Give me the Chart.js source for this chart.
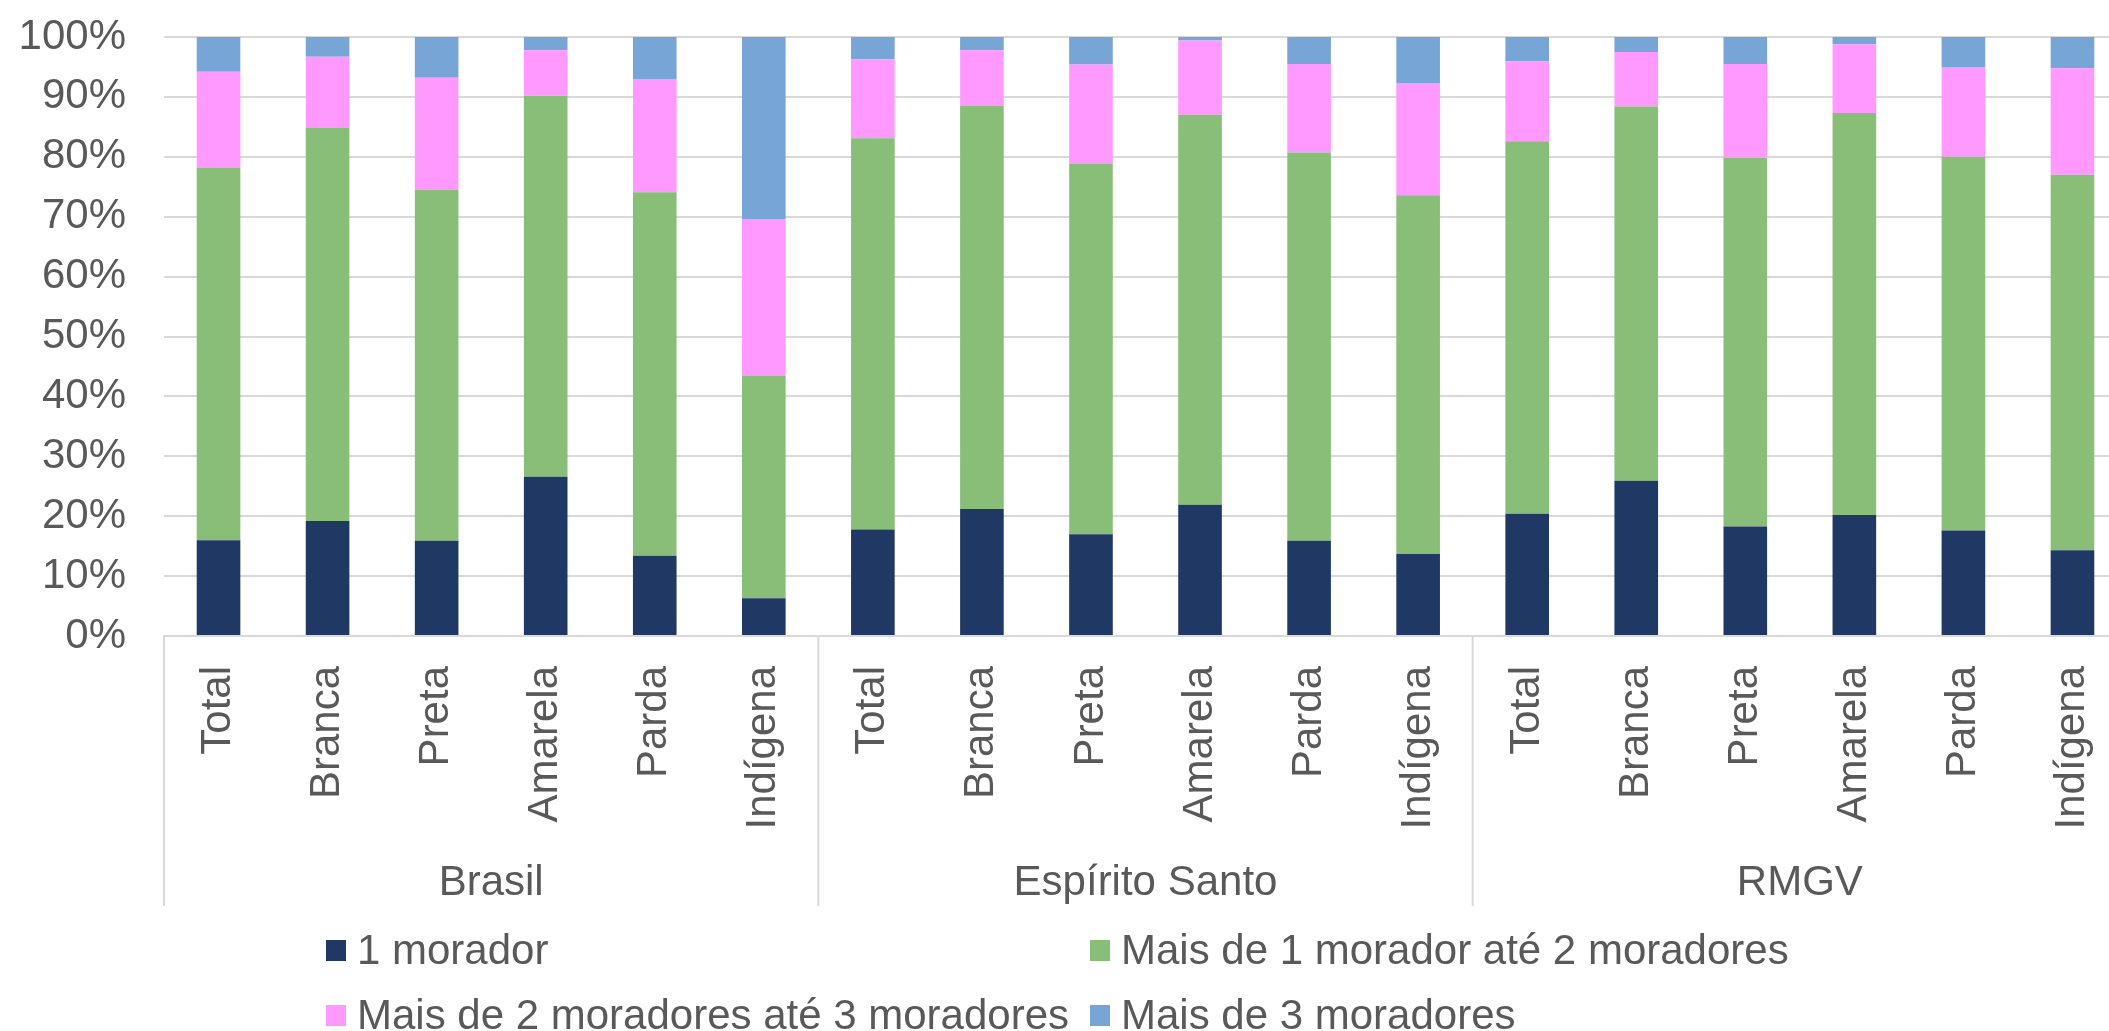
<!DOCTYPE html>
<html>
<head>
<meta charset="utf-8">
<script src="https://cdn.jsdelivr.net/npm/chart.js@4"></script>
<style>
html,body{margin:0;padding:0;overflow:hidden;background:#fff;}
#wrap{position:relative;width:2109px;height:1031px;overflow:hidden;}
canvas{position:absolute;left:0;top:0;}
.legend{position:absolute;font-family:"Liberation Sans",Arial,sans-serif;font-size:42px;color:#595959;line-height:1;white-space:nowrap;}
.legend .item{position:absolute;display:flex;align-items:center;}
.legend .box{width:20px;height:21px;margin-right:11px;}
</style>
</head>
<body>
<div id="wrap">
<canvas id="c" width="2127" height="1031"></canvas>
<div class="legend" id="legend"></div>
</div>
<script>
const groups = ['Brasil', 'Espírito Santo', 'RMGV'];
const categories = ['Total', 'Branca', 'Preta', 'Amarela', 'Parda', 'Indígena'];
const seriesNames = ['1 morador', 'Mais de 1 morador até 2 moradores', 'Mais de 2 moradores até 3 moradores', 'Mais de 3 moradores'];
const morador1 = [16.0,19.2,15.9,26.6,13.4,6.3, 17.8,21.2,17.0,21.9,15.9,13.7, 20.4,25.9,18.3,20.2,17.6,14.3];
const ate2 = [62.2,65.7,58.6,63.6,60.7,37.2, 65.3,67.3,61.8,65.1,64.8,59.9, 62.2,62.5,61.5,67.1,62.4,62.7];
const ate3 = [16.0,11.8,18.7,7.6,18.9,26.1, 13.2,9.3,16.6,12.4,14.8,18.7, 13.3,9.1,15.7,11.5,15.0,17.8];
const mais3 = [5.8,3.3,6.8,2.2,7.0,30.4, 3.7,2.2,4.6,0.6,4.5,7.7, 4.1,2.5,4.5,1.2,5.0,5.2];
const yTicks = [0,10,20,30,40,50,60,70,80,90,100];

const colors = ['#203864', '#88BE78', '#FF99FF', '#76A5D6'];
const FONT = '"Liberation Sans", Arial, sans-serif';
const TXT = '#595959';
const GRID = '#D9D9D9';

const labels = [];
groups.forEach(() => categories.forEach(c => labels.push(c)));
const seriesData = [morador1, ate2, ate3, mais3];

const groupPlugin = {
  id: 'groups',
  afterDraw(chart) {
    const ctx = chart.ctx;
    const xs = chart.scales.x;
    const area = chart.chartArea;
    const n = categories.length;
    const step = xs.getPixelForValue(1) - xs.getPixelForValue(0);
    ctx.save();
    ctx.strokeStyle = GRID;
    ctx.lineWidth = 2;
    for (let g = 0; g <= groups.length; g++) {
      const x = xs.getPixelForValue(g * n) - step / 2;
      ctx.beginPath();
      ctx.moveTo(x, area.bottom);
      ctx.lineTo(x, 906);
      ctx.stroke();
    }
    ctx.fillStyle = TXT;
    ctx.font = '42px ' + FONT;
    ctx.textAlign = 'center';
    ctx.textBaseline = 'middle';
    groups.forEach((name, g) => {
      const x0 = xs.getPixelForValue(g * n) - step / 2;
      const x1 = xs.getPixelForValue(g * n + n - 1) + step / 2;
      ctx.fillText(name, (x0 + x1) / 2, 883);
    });
    ctx.restore();
  }
};

new Chart(document.getElementById('c'), {
  type: 'bar',
  data: {
    labels: labels,
    datasets: seriesData.map((d, i) => ({
      label: seriesNames[i],
      data: d,
      backgroundColor: colors[i],
      borderWidth: 0,
      barPercentage: 0.4,
      categoryPercentage: 1.0
    }))
  },
  options: {
    responsive: false,
    animation: false,
    layout: { padding: { top: 37, left: 0, right: 0, bottom: 0 } },
    plugins: { legend: { display: false }, tooltip: { enabled: false } },
    scales: {
      x: {
        stacked: true,
        grid: { display: false, drawTicks: false },
        border: { display: true, color: GRID, width: 2 },
        ticks: {
          color: TXT, font: { family: FONT, size: 42 },
          minRotation: 90, maxRotation: 90, padding: 30, autoSkip: false
        },
        afterFit(scale) {
          scale.height = 1031 - 636;
          scale.paddingLeft = 0; scale.paddingRight = 0;
          scale.paddingTop = 0; scale.paddingBottom = 0;
        }
      },
      y: {
        stacked: true,
        min: 0, max: 100,
        afterBuildTicks(scale) { scale.ticks = yTicks.map(v => ({ value: v })); },
        grid: { color: GRID, lineWidth: 2, drawTicks: false },
        border: { display: false },
        ticks: {
          color: TXT, font: { family: FONT, size: 42 }, padding: 38,
          callback: v => v + '%'
        },
        afterFit(scale) {
          scale.width = 164;
          scale.paddingTop = 0; scale.paddingBottom = 0;
          scale.paddingLeft = 0; scale.paddingRight = 0;
        }
      }
    }
  },
  plugins: [groupPlugin]
});

const legend = document.getElementById('legend');
const pos = [[326, 950], [1090, 950], [326, 1015], [1090, 1015]];
seriesNames.forEach((name, i) => {
  const it = document.createElement('div');
  it.className = 'item';
  it.style.left = pos[i][0] + 'px';
  it.style.top = (pos[i][1] - 24) + 'px';
  it.style.height = '48px';
  const b = document.createElement('div');
  b.className = 'box';
  b.style.background = colors[i];
  const t = document.createElement('span');
  t.textContent = name;
  it.appendChild(b); it.appendChild(t);
  legend.appendChild(it);
});
</script>
</body>
</html>
